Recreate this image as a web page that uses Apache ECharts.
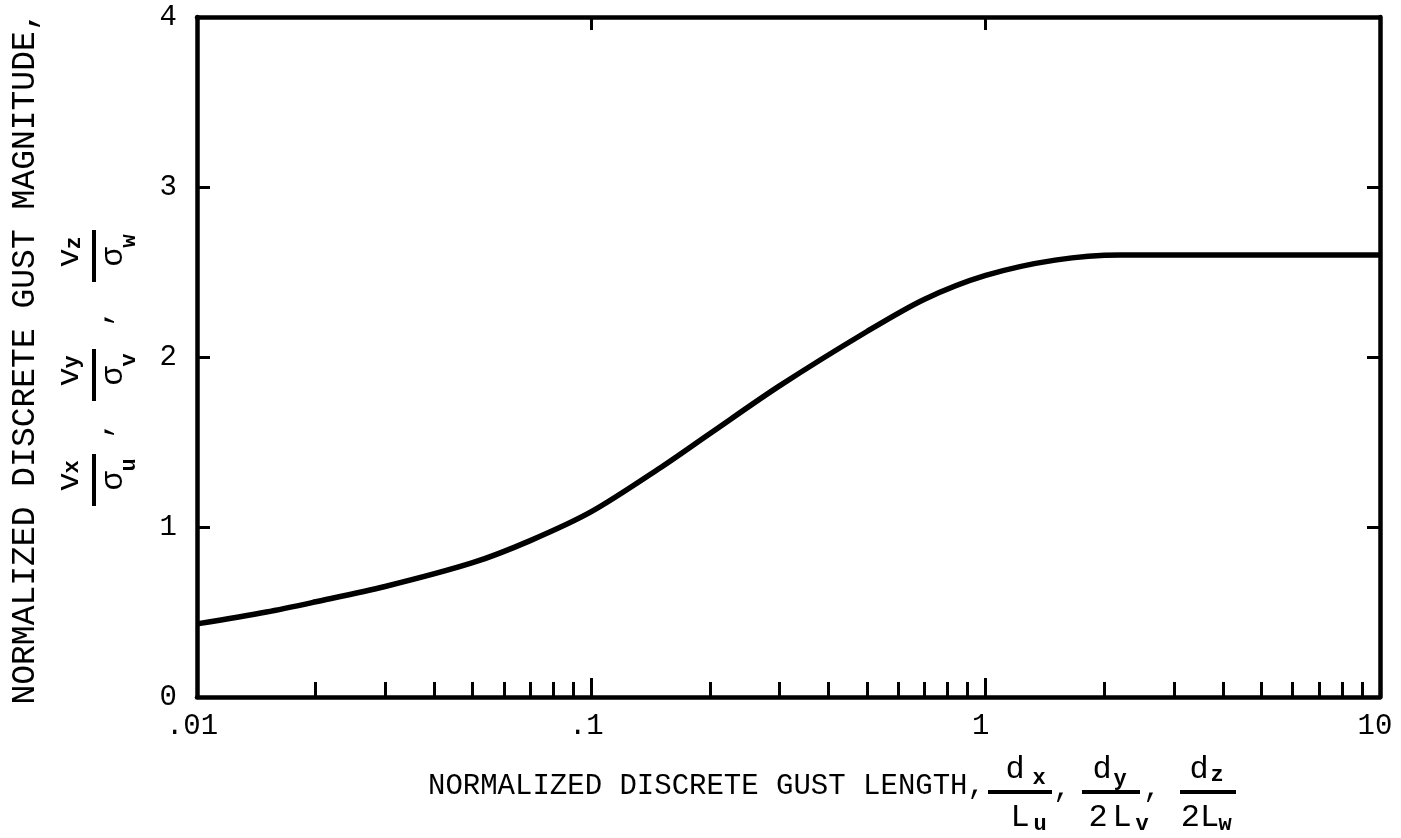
<!DOCTYPE html>
<html>
<head>
<meta charset="utf-8">
<script src="https://cdn.jsdelivr.net/npm/echarts@6/dist/echarts.min.js"></script>
<style>
  html, body { margin: 0; padding: 0; background: #fff; }
  #chart { width: 1401px; height: 838px; }
</style>
</head>
<body>
<div id="chart"></div>
<script>
// Normalized discrete gust length (d/L) and normalized gust magnitude (v/sigma)
const gustLength = [0.01, 0.015, 0.02, 0.03, 0.05, 0.07, 0.1, 0.15, 0.2, 0.3, 0.5, 0.7, 1.0, 1.5, 2.2, 3, 5, 10];
const gustMagnitude = [0.43, 0.50, 0.56, 0.65, 0.79, 0.92, 1.09, 1.35, 1.55, 1.83, 2.15, 2.34, 2.48, 2.57, 2.60, 2.60, 2.60, 2.60];

// Axis ticks and labels
const xTickValues = [0.01, 0.1, 1, 10];
const xTickLabels = ['.01', '.1', '1', '10'];
const xMinorTicks = [0.02, 0.03, 0.04, 0.05, 0.06, 0.07, 0.08, 0.09, 0.2, 0.3, 0.4, 0.5, 0.6, 0.7, 0.8, 0.9, 2, 3, 4, 5, 6, 7, 8, 9];
const xTopTicks = [0.1, 1];
const yTickValues = [0, 1, 2, 3, 4];
const yTickLabels = ['0', '1', '2', '3', '4'];

const xAxisTitle = 'NORMALIZED DISCRETE GUST LENGTH,';
const yAxisTitle = 'NORMALIZED DISCRETE GUST MAGNITUDE,';

const FONT = '"Liberation Mono", "DejaVu Sans Mono", monospace';
const INK = '#000';

function txt(x, y, s, size, bold, extra) {
  return Object.assign({
    type: 'text', x: x, y: y,
    style: {
      text: s, fill: INK, font: (bold ? 'bold ' : '') + size + 'px ' + FONT,
      textAlign: 'center', textVerticalAlign: 'middle'
    }
  }, extra || {});
}

// A stacked fraction: numerator over a bar over denominator, in local coordinates
function fraction(cx, cy, barW, parts, rotation) {
  const children = [{
    type: 'rect', shape: { x: -barW / 2, y: -2, width: barW, height: 4 },
    style: { fill: INK }
  }];
  parts.forEach(function (p) { children.push(txt(p[0], p[1], p[2], p[3], p[4])); });
  return { type: 'group', x: cx, y: cy, rotation: rotation || 0, children: children };
}

function labelFor(values, labels) {
  return function (v) {
    for (let i = 0; i < values.length; i++) {
      if (Math.abs(Math.log10(values[i]) - Math.log10(v)) < 1e-6) return labels[i];
    }
    return '';
  };
}

const chart = echarts.init(document.getElementById('chart'), null, { renderer: 'canvas' });

const axisLine = { show: true, lineStyle: { color: INK, width: 4.5 } };
const tickStyle = { color: INK, width: 3 };

const option = {
  animation: false,
  backgroundColor: '#fff',
  grid: { left: 197, right: 21, top: 17, bottom: 141, containLabel: false, outerBoundsMode: 'none' },
  xAxis: [
    {
      type: 'log', logBase: 10, min: 0.01, max: 10, position: 'bottom',
      axisLine: axisLine,
      axisTick: { show: true, inside: true, length: 19, lineStyle: tickStyle },
      axisLabel: {
        show: true, margin: 15, color: INK, fontFamily: FONT, fontSize: 29,
        padding: [0, 10, 0, 0],
        formatter: labelFor(xTickValues, xTickLabels)
      },
      splitLine: { show: false }
    },
    {
      type: 'log', logBase: 10, min: 0.01, max: 10, position: 'bottom',
      axisLine: { show: false },
      axisTick: { show: true, inside: true, length: 15, lineStyle: tickStyle, customValues: xMinorTicks },
      axisLabel: { show: false },
      splitLine: { show: false }
    },
    {
      type: 'log', logBase: 10, min: 0.01, max: 10, position: 'top',
      axisLine: axisLine,
      axisTick: { show: true, inside: true, length: 13, lineStyle: tickStyle, customValues: xTopTicks },
      axisLabel: { show: false },
      splitLine: { show: false }
    }
  ],
  yAxis: [
    {
      type: 'value', min: 0, max: 4, interval: 1, position: 'left',
      axisLine: axisLine,
      axisTick: { show: true, inside: true, length: 13, lineStyle: tickStyle },
      axisLabel: {
        show: true, margin: 20, color: INK, fontFamily: FONT, fontSize: 29,
        formatter: function (v) { const i = yTickValues.indexOf(v); return i >= 0 ? yTickLabels[i] : ''; }
      },
      splitLine: { show: false }
    },
    {
      type: 'value', min: 0, max: 4, interval: 1, position: 'right',
      axisLine: axisLine,
      axisTick: { show: true, inside: true, length: 13, lineStyle: tickStyle },
      axisLabel: { show: false },
      splitLine: { show: false }
    }
  ],
  series: [{
    type: 'line',
    xAxisIndex: 0, yAxisIndex: 0,
    data: gustLength.map(function (x, i) { return [x, gustMagnitude[i]]; }),
    showSymbol: false,
    smooth: 0.3,
    lineStyle: { color: INK, width: 5.5 },
    silent: true
  }],
  graphic: [
    // horizontal axis title with the three length ratios
    txt(428, 786, xAxisTitle, 29, false, { style: { text: xAxisTitle, fill: INK, font: '29px ' + FONT, textAlign: 'left', textVerticalAlign: 'middle' } }),
    fraction(1020, 792, 64, [[-5, -22, 'd', 32], [19, -14, 'x', 22, true], [0, 26, 'L', 32], [20, 32, 'u', 22, true]]),
    txt(1062, 789, ',', 29),
    fraction(1111, 792, 58, [[-9, -22, 'd', 32], [9, -13, 'y', 22, true], [-13, 26, '2', 32], [11, 26, 'L', 32], [31, 32, 'v', 22, true]]),
    txt(1152, 789, ',', 29),
    fraction(1208, 792, 56, [[-9, -22, 'd', 32], [9, -17, 'z', 22, true], [-8, 26, '2L', 32], [17, 32, 'w', 22, true]]),

    // vertical axis title with the three magnitude ratios
    txt(25, 358, yAxisTitle, 33, false, { rotation: Math.PI / 2 }),
    fraction(94, 480, 52, [[-2, -24, 'v', 32], [13, -22, 'x', 22, true], [-1, 20, 'σ', 32], [15, 35, 'u', 22, true]], Math.PI / 2),
    txt(101, 430, ',', 29, false, { rotation: Math.PI / 2 }),
    fraction(94, 375, 52, [[-2, -24, 'v', 32], [13, -22, 'y', 22, true], [-1, 20, 'σ', 32], [15, 35, 'v', 22, true]], Math.PI / 2),
    txt(101, 318, ',', 29, false, { rotation: Math.PI / 2 }),
    fraction(94, 256, 52, [[-2, -24, 'v', 32], [13, -20, 'z', 22, true], [-1, 20, 'σ', 32], [15, 35, 'w', 22, true]], Math.PI / 2)
  ]
};

chart.setOption(option);
</script>
</body>
</html>
